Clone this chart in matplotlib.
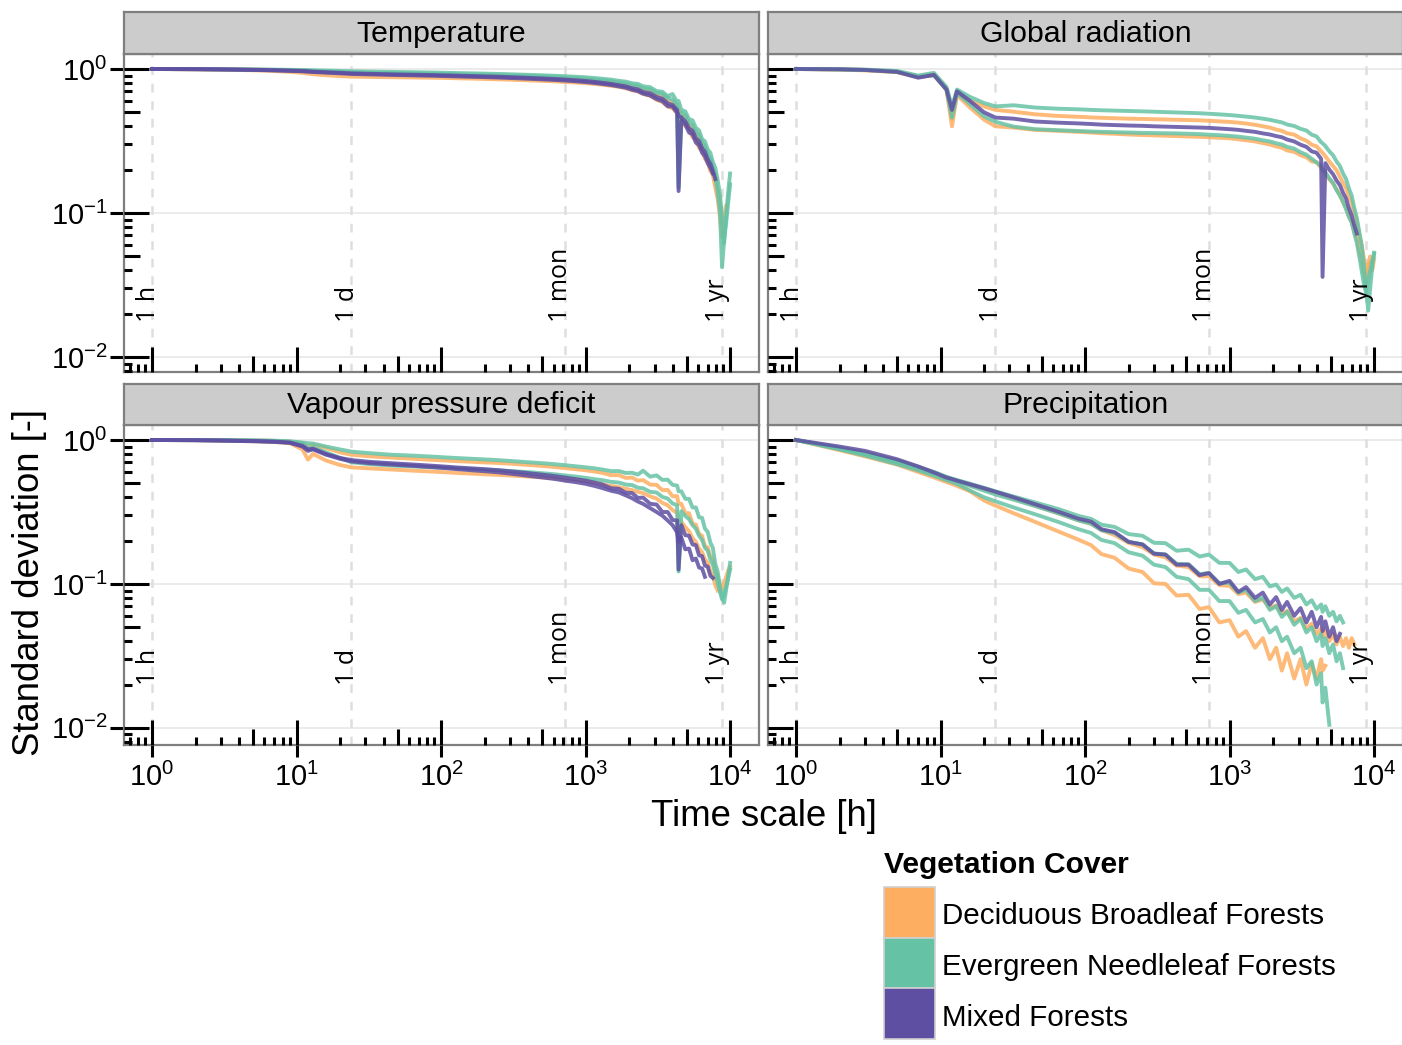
import numpy as np
import matplotlib
matplotlib.use("Agg")
import matplotlib.pyplot as plt
import matplotlib.transforms as mtransforms
from matplotlib.patches import Rectangle

plt.rcParams['font.family'] = ['Liberation Sans', 'DejaVu Sans']
plt.rcParams['mathtext.fontset'] = 'custom'
plt.rcParams['mathtext.rm'] = 'Liberation Sans'
plt.rcParams['mathtext.it'] = 'Liberation Sans:italic'
plt.rcParams['mathtext.bf'] = 'Liberation Sans:bold'

nan = float('nan')

# ---------------------------------------------------------------- data
HOURS = [1, 2, 3, 5, 7, 9, 11, 12, 13, 16,
         20, 24, 32, 45, 65, 90, 110, 130, 160, 200,
         250, 300, 360, 430, 520, 620, 720, 850, 1000, 1150,
         1300, 1500, 1700, 1900, 2100, 2300, 2500, 2800, 3100, 3400,
         3700, 4000, 4300, 4400, 4600, 4900, 5200, 5500, 5800, 6100,
         6400, 6700, 7000, 7300, 7600, 7900, 8200, 8500, 8800, 9100,
         9400, 9700, 10000]

VEG_CLASSES = ["Deciduous Broadleaf Forests", "Evergreen Needleleaf Forests", "Mixed Forests"]
VEG_COLORS = ["#FDAE61", "#66C2A5", "#5E4FA2"]

PANEL_TITLES = ["Temperature", "Global radiation", "Vapour pressure deficit", "Precipitation"]

MARKER_HOURS = [1, 24, 720, 8760]
MARKER_LABELS = ["1 h", "1 d", "1 mon", "1 yr"]

X_TICKS = [1, 10, 100, 1000, 10000]
X_TICK_LABELS = [r'$10^{0}$', r'$10^{1}$', r'$10^{2}$', r'$10^{3}$', r'$10^{4}$']
Y_TICKS = [1, 0.1, 0.01]
Y_TICK_LABELS = [r'$10^{0}$', r'$10^{-1}$', r'$10^{-2}$']

# Temperature
temp_dbf_1 = [1.000, .995, .990, .980, .968, .955, .940, .930, .920, .905,
              .893, .885, .881, .877, .873, .869, .866, .862, .858, .853,
              .848, .843, .838, .832, .826, .820, .813, .806, .797, .788,
              .778, .765, .752, .735, .712, .700, .672, .650, .612, .590,
              .548, .535, .492, .470, .446, .402, .384, .336, .322, .284,
              .272, .238, .226, .196, .184, .150, .126, .094, .068, .090,
              .112, nan, nan]
temp_dbf_2 = [1.000, .998, .995, .990, .985, .980, .975, .970, .965, .956,
              .946, .937, .931, .926, .921, .916, .912, .908, .904, .900,
              .895, .890, .885, .879, .873, .867, .860, .852, .843, .833,
              .822, .810, .793, .781, .758, .748, .718, .705, .662, .648,
              .598, .590, .540, .528, .482, .460, .412, .398, .352, .338,
              .296, .282, .246, .232, .204, .186, .146, .122, .086, .078,
              nan, nan, nan]
temp_enf_1 = [1.000, .998, .996, .993, .990, .987, .984, .982, .980, .975,
              .970, .965, .960, .955, .950, .945, .941, .937, .933, .929,
              .924, .919, .914, .909, .903, .897, .891, .884, .876, .866,
              .856, .844, .828, .817, .796, .788, .758, .748, .702, .695,
              .648, .670, .588, .600, .520, .508, .448, .440, .390, .375,
              .326, .314, .276, .262, .226, .205, .170, .136, .092, .062,
              .098, .140, .188]
temp_enf_2 = [1.000, .997, .994, .990, .985, .980, .976, .973, .970, .963,
              .955, .948, .942, .937, .932, .927, .923, .919, .915, .911,
              .906, .901, .896, .891, .885, .879, .872, .864, .855, .845,
              .834, .822, .806, .794, .772, .762, .735, .722, .684, .672,
              .628, .612, .562, .150, .498, .478, .425, .408, .365, .348,
              .306, .290, .252, .240, .206, .176, .140, .104, .042, .066,
              .086, .118, .158]
temp_mf_1 = [1.000, .997, .993, .985, .978, .971, .964, .958, .953, .943,
             .933, .924, .917, .910, .903, .897, .892, .888, .883, .878,
             .872, .866, .860, .853, .846, .839, .831, .822, .812, .800,
             .788, .774, .757, .741, .718, .702, .674, .655, .618, .598,
             .552, .548, .496, .142, .438, .412, .362, .352, .308, .296,
             .262, .248, .222, .206, .188, nan, nan, nan, nan, nan,
             nan, nan, nan]
temp_mf_2 = [1.000, .997, .994, .988, .981, .975, .969, .964, .959, .950,
             .941, .933, .926, .919, .913, .907, .903, .899, .894, .889,
             .884, .878, .872, .866, .859, .852, .845, .836, .826, .815,
             .803, .788, .772, .758, .735, .722, .692, .678, .640, .622,
             .578, .562, .518, .470, .462, .432, .388, .372, .330, .315,
             .282, .265, .236, .220, .196, .172, nan, nan, nan, nan,
             nan, nan, nan]

# Global radiation
rad_dbf_1 = [1.000, .990, .978, .950, .878, .905, .720, .400, .660, .540,
             .445, .400, .392, .378, .372, .366, .362, .358, .355, .351,
             .348, .346, .344, .342, .340, .338, .336, .333, .330, .325,
             .320, .314, .306, .299, .290, .284, .272, .266, .252, .244,
             .228, .226, .206, .198, .188, .172, .160, .146, .134, .118,
             .110, .094, .086, .074, .066, .054, .046, .038, .032, .040,
             .046, .040, .048]
rad_dbf_2 = [1.000, .995, .985, .960, .890, .920, .730, .450, .690, .600,
             .550, .520, .505, .485, .472, .466, .461, .458, .455, .452,
             .450, .448, .446, .444, .442, .440, .437, .433, .429, .424,
             .418, .410, .400, .392, .380, .372, .358, .350, .330, .318,
             .298, .290, .268, .262, .248, .228, .212, .198, .178, .162,
             .148, .130, .118, .100, .088, .070, .060, .048, .038, .044,
             .050, .042, nan]
rad_enf_1 = [1.000, .997, .990, .970, .900, .940, .750, .550, .720, .640,
             .580, .550, .560, .540, .530, .525, .520, .517, .514, .511,
             .508, .505, .502, .499, .496, .493, .489, .484, .479, .473,
             .467, .460, .452, .444, .434, .426, .412, .402, .384, .374,
             .350, .340, .310, .305, .292, .268, .252, .228, .212, .188,
             .172, .148, .132, .108, .092, .074, .060, .044, .030, .021,
             .030, .042, .053]
rad_enf_2 = [1.000, .993, .985, .955, .885, .905, .715, .460, .680, .570,
             .470, .430, .398, .382, .376, .371, .368, .366, .364, .362,
             .360, .359, .358, .357, .355, .353, .350, .347, .343, .339,
             .334, .328, .320, .314, .305, .299, .288, .280, .264, .254,
             .238, .224, .212, .200, .192, .174, .162, .144, .132, .120,
             .106, .094, .086, .072, .062, .050, .040, .032, .028, .034,
             .040, .046, .052]
rad_mf_1 = [1.000, .995, .985, .955, .870, .910, .720, .520, .700, .600,
            .500, .460, .452, .432, .424, .419, .415, .411, .408, .405,
            .403, .400, .398, .396, .394, .392, .390, .386, .382, .378,
            .372, .366, .357, .351, .342, .336, .324, .314, .298, .288,
            .268, .262, .238, .036, .222, .200, .186, .168, .156, .138,
            .126, .108, .096, .082, .072, nan, nan, nan, nan, nan,
            nan, nan, nan]

# Vapour pressure deficit
vpd_dbf_1 = [1.000, .998, .995, .990, .985, .975, .950, .900, .930, .880,
             .820, .790, .770, .755, .740, .726, .719, .713, .706, .699,
             .692, .685, .677, .668, .658, .648, .638, .627, .616, .604,
             .592, .570, .570, .545, .548, .522, .526, .490, .488, .448,
             .450, .406, .408, .360, .360, .310, .310, .262, .258, .222,
             .216, .182, .180, .155, .150, .124, .115, .097, .092, .102,
             .112, .124, .132]
vpd_dbf_2 = [1.000, .997, .990, .980, .968, .950, .860, .730, .800, .720,
             .670, .645, .635, .624, .612, .602, .596, .590, .584, .578,
             .572, .567, .561, .555, .548, .541, .533, .524, .514, .503,
             .492, .479, .470, .458, .448, .436, .428, .406, .392, .366,
             .352, .326, .312, .282, .270, .248, .232, .208, .196, .176,
             .166, .148, .140, .122, .114, .098, .090, nan, nan, nan,
             nan, nan, nan]
vpd_enf_1 = [1.000, .999, .998, .995, .990, .980, .960, .950, .945, .900,
             .860, .830, .810, .790, .778, .765, .756, .749, .741, .733,
             .724, .715, .706, .697, .688, .678, .668, .657, .646, .636,
             .624, .608, .608, .590, .592, .575, .612, .556, .568, .528,
             .530, .488, .482, .440, .440, .390, .390, .340, .340, .290,
             .288, .242, .230, .194, .178, .138, .122, .096, .082, .074,
             .092, .112, .140]
vpd_enf_2 = [1.000, .998, .995, .990, .985, .970, .940, .880, .890, .820,
             .750, .700, .680, .665, .655, .645, .640, .634, .628, .622,
             .615, .609, .602, .595, .586, .577, .567, .557, .546, .534,
             .526, .512, .506, .490, .486, .466, .462, .436, .432, .402,
             .392, .362, .352, .122, .320, .296, .282, .256, .242, .216,
             .202, .178, .170, .148, .136, .118, .102, .088, .078, .086,
             .096, .110, .126]
vpd_mf_1 = [1.000, .997, .993, .985, .975, .960, .910, .860, .870, .800,
            .750, .725, .705, .690, .675, .661, .652, .644, .636, .627,
            .617, .606, .595, .584, .572, .560, .548, .535, .522, .506,
            .492, .462, .458, .430, .428, .396, .398, .360, .356, .316,
            .316, .278, .276, .126, .256, .218, .216, .188, .186, .158,
            .156, .134, .132, .114, .110, nan, nan, nan, nan, nan,
            nan, nan, nan]
vpd_mf_2 = [1.000, .996, .990, .980, .970, .955, .900, .840, .860, .790,
            .740, .710, .690, .675, .660, .646, .636, .627, .617, .607,
            .596, .584, .572, .559, .547, .535, .522, .510, .496, .480,
            .464, .444, .432, .412, .394, .374, .360, .336, .316, .298,
            .276, .256, .228, .196, .210, .174, .176, .146, .150, .130,
            .128, .112, nan, nan, nan, nan, nan, nan, nan, nan,
            nan, nan, nan]

# Precipitation
pre_dbf_1 = [1.000, .880, .815, .720, .650, .595, .550, .535, .520, .488,
             .455, .430, .392, .350, .310, .277, .262, .236, .219, .193,
             .180, .160, .153, .134, .131, .113, .113, .098, .097, .085,
             .087, .075, .078, .068, .071, .062, .065, .055, .058, .049,
             .053, .045, .049, .043, .047, .040, .045, .038, .043, .037,
             .042, .036, .042, .038, nan, nan, nan, nan, nan, nan,
             nan, nan, nan]
pre_dbf_2 = [1.000, .850, .770, .675, .600, .550, .510, .495, .480, .440,
             .380, .350, .310, .270, .232, .203, .186, .161, .152, .128,
             .121, .101, .100, .083, .084, .067, .069, .054, .056, .043,
             .047, .036, .042, .030, .036, .025, .033, .022, .030, .020,
             .028, .022, .030, .025, .027, nan, nan, nan, nan, nan,
             nan, nan, nan, nan, nan, nan, nan, nan, nan, nan,
             nan, nan, nan]
pre_enf_1 = [1.000, .880, .810, .720, .650, .600, .555, .540, .527, .497,
             .465, .440, .405, .368, .332, .297, .283, .258, .249, .222,
             .216, .193, .192, .170, .173, .155, .160, .140, .140, .121,
             .126, .108, .112, .096, .099, .088, .093, .080, .084, .072,
             .077, .067, .072, .064, .070, .060, .064, .055, .060, .054,
             nan, nan, nan, nan, nan, nan, nan, nan, nan, nan,
             nan, nan, nan]
pre_enf_2 = [1.000, .860, .780, .680, .615, .565, .525, .510, .495, .445,
             .400, .375, .340, .305, .270, .240, .226, .202, .192, .166,
             .157, .136, .131, .112, .108, .091, .091, .076, .076, .063,
             .066, .054, .057, .046, .050, .040, .043, .033, .036, .026,
             .029, .020, .024, .015, .019, .0105, nan, nan, nan, nan,
             nan, nan, nan, nan, nan, nan, nan, nan, nan, nan,
             nan, nan, nan]
pre_enf_3 = [1.000, .870, .800, .700, .635, .585, .543, .528, .514, .480,
             .445, .418, .385, .348, .310, .276, .262, .236, .226, .196,
             .188, .163, .160, .138, .137, .117, .119, .101, .102, .087,
             .091, .076, .080, .066, .070, .059, .064, .052, .057, .046,
             .050, .040, .045, .037, .042, .033, .038, .029, .033, .026,
             nan, nan, nan, nan, nan, nan, nan, nan, nan, nan,
             nan, nan, nan]
pre_mf_1 = [1.000, .900, .840, .735, .655, .595, .548, .535, .522, .492,
            .462, .437, .400, .358, .318, .284, .271, .240, .229, .196,
            .188, .162, .160, .136, .136, .115, .119, .100, .105, .088,
            .095, .080, .087, .072, .081, .066, .075, .060, .068, .054,
            .064, .050, .059, .047, .055, .043, .050, .040, .045, nan,
            nan, nan, nan, nan, nan, nan, nan, nan, nan, nan,
            nan, nan, nan]

# (vegetation class index, series) per panel
PANEL_SERIES = [
    [(0, temp_dbf_1), (0, temp_dbf_2), (1, temp_enf_1), (1, temp_enf_2), (2, temp_mf_1), (2, temp_mf_2)],
    [(0, rad_dbf_1), (0, rad_dbf_2), (1, rad_enf_1), (1, rad_enf_2), (2, rad_mf_1)],
    [(0, vpd_dbf_1), (0, vpd_dbf_2), (1, vpd_enf_1), (1, vpd_enf_2), (2, vpd_mf_1), (2, vpd_mf_2)],
    [(0, pre_dbf_1), (0, pre_dbf_2), (1, pre_enf_1), (1, pre_enf_2), (1, pre_enf_3), (2, pre_mf_1)],
]

for panel in PANEL_SERIES:
    for _, s in panel:
        assert len(s) == len(HOURS), len(s)

# ---------------------------------------------------------------- layout
W, H = 1402, 1045
fig = plt.figure(figsize=(W / 100, H / 100), dpi=100)


def frac_box(left, top, width, height):
    return [left / W, 1 - (top + height) / H, width / W, height / H]


PANEL_PX = [(124, 54, 635, 318), (768, 54, 635, 318),
            (124, 425, 635, 320), (768, 425, 635, 320)]
STRIP_PX = [(124, 12, 635, 42), (768, 12, 635, 42),
            (124, 384, 635, 41), (768, 384, 635, 41)]
YLIMS = [(0.00787, 1.271), (0.00787, 1.271), (0.0076, 1.271), (0.0076, 1.271)]
LABEL_Y = [0.0175, 0.0175, 0.02, 0.02]
XLIM = (0.64, 15850)
SPINE_COLOR = '#7f7f7f'


def draw_logticks(ax, w_px, h_px):
    x0, x1 = ax.get_xlim()
    y0, y1 = ax.get_ylim()
    bx = mtransforms.blended_transform_factory(ax.transData, ax.transAxes)
    by = mtransforms.blended_transform_factory(ax.transAxes, ax.transData)
    for dec in range(-4, 6):
        for m in range(1, 10):
            v = m * 10.0 ** dec
            length = 25 if m == 1 else (16 if m == 5 else 8)
            if x0 <= v <= x1:
                ax.plot([v, v], [0, length / h_px], transform=bx, color='black',
                        lw=2.2, solid_capstyle='butt', zorder=5, clip_on=False)
            if y0 <= v <= y1:
                ax.plot([0, length / w_px], [v, v], transform=by, color='black',
                        lw=2.2, solid_capstyle='butt', zorder=5, clip_on=False)


for i in range(4):
    left, top, wpx, hpx = PANEL_PX[i]
    ax = fig.add_axes(frac_box(*PANEL_PX[i]))
    ax.set_xscale('log')
    ax.set_yscale('log')
    ax.set_xlim(*XLIM)
    ax.set_ylim(*YLIMS[i])
    ax.set_facecolor('white')
    for sp in ax.spines.values():
        sp.set_color(SPINE_COLOR)
        sp.set_linewidth(1.6)

    # horizontal grid at decades
    for yv in Y_TICKS:
        ax.axhline(yv, color='#ebebeb', lw=1.4, zorder=0.5)
    # reference time scales
    for hv in MARKER_HOURS:
        ax.axvline(hv, color='#dedede', lw=1.8, ls=(0, (3.5, 3.5)), zorder=0.6)

    for cls, series in PANEL_SERIES[i]:
        ax.plot(HOURS, series, color=VEG_COLORS[cls], lw=2.8, alpha=0.85,
                solid_joinstyle='round', zorder=2)

    off = mtransforms.offset_copy(ax.transData, fig=fig, x=-4, y=0, units='dots')
    for hv, lab in zip(MARKER_HOURS, MARKER_LABELS):
        ax.text(hv, LABEL_Y[i], lab, rotation=90, ha='center', va='bottom',
                fontsize=18, family=['Open Sans', 'DejaVu Sans'], transform=off, zorder=4)

    ax.xaxis.set_minor_locator(matplotlib.ticker.NullLocator())
    ax.yaxis.set_minor_locator(matplotlib.ticker.NullLocator())
    ax.set_xticks(X_TICKS)
    ax.set_yticks(Y_TICKS)
    ax.set_xticklabels(X_TICK_LABELS)
    ax.set_yticklabels(Y_TICK_LABELS)

    if i % 2 == 0:
        ax.tick_params(axis='y', direction='out', length=10, width=2.2, color='black',
                       labelsize=21, pad=2)
    else:
        ax.tick_params(axis='y', length=0, labelleft=False)
    if i >= 2:
        ax.tick_params(axis='x', direction='out', length=8.6, width=2.2, color='black',
                       labelsize=21, pad=4)
    else:
        ax.tick_params(axis='x', length=0, labelbottom=False)

    draw_logticks(ax, wpx, hpx)

    # facet strip
    sax = fig.add_axes(frac_box(*STRIP_PX[i]))
    sax.set_facecolor('#cccccc')
    sax.set_xticks([])
    sax.set_yticks([])
    for sp in sax.spines.values():
        sp.set_color(SPINE_COLOR)
        sp.set_linewidth(1.6)
    sax.text(0.5, 0.48, PANEL_TITLES[i], ha='center', va='center', fontsize=21.8,
             transform=sax.transAxes)

fig.text(30 / W, 1 - 582 / H, "Standard deviation [-]", rotation=90,
         ha='center', va='center', fontsize=26.3)
fig.text(764 / W, 1 - 817 / H, "Time scale [h]", ha='center', va='center', fontsize=26.3)

# legend: title, colour keys and labels
fig.text(884 / W, 1 - 865 / H, "Vegetation Cover", ha='left', va='center',
         fontsize=21.6, fontweight='bold')
KEY_LEFT, KEY_TOP, KEY_W, KEY_H = 884, 887, 51, 50.7
for k, (lab, col) in enumerate(zip(VEG_CLASSES, VEG_COLORS)):
    top = KEY_TOP + k * KEY_H
    fig.add_artist(Rectangle((KEY_LEFT / W, 1 - (top + KEY_H) / H), KEY_W / W, KEY_H / H,
                             transform=fig.transFigure, facecolor=col,
                             edgecolor='#d0d0d0', linewidth=1.2))
    fig.text((KEY_LEFT + KEY_W + 7) / W, 1 - (top + KEY_H / 2 + 4) / H, lab,
             ha='left', va='center', fontsize=21.3)

fig.savefig('out.png', dpi=100)
